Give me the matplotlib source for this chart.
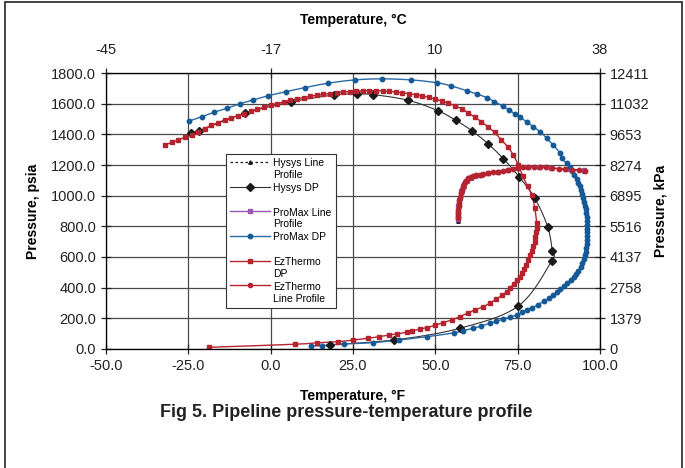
import numpy as np
import matplotlib.pyplot as plt
from matplotlib.lines import Line2D
from matplotlib.patches import Rectangle

plt.rcParams['font.family'] = ['Liberation Sans', 'DejaVu Sans']

# Osie: temperatura (F) i cisnienie (psia)
x_ticks = [-50, -25, 0, 25, 50, 75, 100]
y_ticks = [0, 200, 400, 600, 800, 1000, 1200, 1400, 1600, 1800]
kpa_labels = ['0', '1379', '2758', '4137', '5516', '6895', '8274', '9653', '11032', '12411']
c_ticks = [-50, 0, 50, 100]
c_labels = ['-45', '-17', '10', '38']

# Hysys DP (punkty)
hysys_dp_t = [-24.3, -21.8, -7.8, 6.1, 19.3, 26.1, 31.2, 41.8, 50.7, 56.2, 61.2, 66.1,
              70.7, 75.4, 80.2, 84.1, 85.5, 85.3, 75.2, 57.4, 37.5, 18.0]
hysys_dp_p = [1407, 1424, 1537, 1611, 1657, 1663, 1659, 1622, 1555, 1492, 1422, 1337,
              1240, 1124, 983, 798, 639, 574, 280, 135, 59, 28]

# ProMax DP
promax_dp_t = [-24.7, -20.9, -17.2, -13.3, -9.3, -5.3, -0.7, 4.6, 10.4, 17.3, 25.5, 33.7,
               42.6, 50.4, 54.8, 59.5, 62.6, 65.6, 67.9, 70.4, 72.4, 74.2, 75.7, 77.7,
               79.7, 81.8, 83.8, 85.8, 87.9, 88.4, 89.9, 90.8, 91.5, 92.2, 92.9, 93.4,
               93.8, 94.1, 94.5, 94.9, 95.2, 95.5, 95.7, 95.9, 96.0, 96.1, 96.2, 96.2,
               96.2, 96.2, 96.1, 96.0, 95.8, 95.6, 95.3, 95.0, 94.6, 94.1, 93.4, 92.8,
               92.0, 91.1, 90.0, 89.0, 88.0, 86.9, 85.8, 84.5, 82.9, 81.3, 79.5, 77.8,
               76.3, 74.7, 72.6, 70.5, 68.5, 66.6, 64.0, 61.5, 58.5, 55.6, 47.4, 39.1,
               31.0, 22.4, 15.5, 12.2]
promax_dp_p = [1487, 1515, 1544, 1570, 1600, 1624, 1652, 1678, 1705, 1733, 1755, 1762,
               1755, 1737, 1716, 1685, 1663, 1640, 1614, 1585, 1559, 1533, 1511, 1483,
               1450, 1418, 1374, 1331, 1276, 1243, 1211, 1185, 1160, 1135, 1110, 1085,
               1060, 1037, 1010, 985, 960, 935, 910, 885, 860, 835, 810, 785,
               760, 735, 710, 685, 660, 635, 610, 585, 560, 535, 510, 490,
               470, 450, 430, 410, 390, 370, 350, 330, 310, 290, 270, 254,
               238, 222, 208, 195, 180, 168, 150, 135, 120, 105, 80, 59,
               41, 33, 22, 20]

# EzThermo DP
ez_dp_t = [-32, -30, -28, -26, -24, -22, -20, -18, -16, -14, -12, -10, -8, -6, -4, -2,
           0, 2, 4, 6, 8, 10, 12, 14, 16, 18, 20, 22, 24, 26, 28, 30, 32, 34, 36, 38,
           40, 42, 44, 46, 48, 50, 52, 54, 56, 58, 60, 62, 64, 66, 68, 70, 72, 73.7,
           75.2, 76.5, 78.0, 79.3, 80.2, 80.8, 80.8, 80.6, 80.4, 80.2, 79.8, 79.3, 78.8,
           78.2, 77.6, 77.0, 76.3, 75.7, 74.8, 73.8, 72.8, 71.7, 70.2, 68.5, 66.6, 64.6,
           62.0, 60.0, 57.5, 55.0, 52.4, 50.0, 47.5, 45.4, 43.0, 41.3, 38.5, 36.0, 33.0,
           29.5, 25.0, 20.5, 14.0, 7.4, -18.7]
ez_dp_p = [1331, 1348, 1365, 1382, 1398, 1415, 1438, 1458, 1476, 1494, 1508, 1522, 1535,
           1550, 1564, 1578, 1590, 1601, 1612, 1622, 1631, 1640, 1648, 1655, 1661, 1666,
           1671, 1676, 1679, 1682, 1684, 1685, 1685, 1683, 1680, 1676, 1671, 1665, 1658,
           1650, 1641, 1630, 1617, 1603, 1586, 1566, 1540, 1512, 1482, 1448, 1412, 1365,
           1318, 1265, 1200, 1130, 1060, 1005, 920, 820, 790, 760, 730, 700, 670, 640,
           610, 580, 550, 520, 495, 472, 448, 425, 400, 374, 350, 325, 300, 276, 255,
           235, 211, 190, 172, 155, 140, 130, 118, 109, 100, 91, 80, 70, 58, 48, 40, 31, 11]

# Profile rurociagu (line profile)
ez_lp_t = [95.5, 93.5, 91.5, 89.5, 87.5, 85.5, 83.5, 81.8, 80.0, 78.0, 76.5, 75.0, 73.5,
           72.0, 70.5, 69.0, 67.5, 66.0, 64.6, 63.5, 62.5, 61.5, 60.7, 60.0, 59.5, 59.0,
           58.6, 58.3, 58.0, 57.7, 57.5, 57.3, 57.2, 57.1, 57.0, 57.0, 57.0, 57.0]
ez_lp_p = [1163, 1167, 1170, 1173, 1176, 1180, 1184, 1189, 1190, 1189, 1186, 1182, 1176,
           1168, 1161, 1156, 1152, 1147, 1142, 1138, 1134, 1128, 1120, 1112, 1102, 1090,
           1075, 1059, 1040, 1020, 993, 970, 950, 930, 907, 890, 870, 852]
promax_lp_t = [95.0, 90.0, 85.0, 81.5, 78.0, 75.0, 72.0, 69.0, 66.0, 64.0, 62.0, 60.5,
               59.3, 58.5, 57.9, 57.4, 57.0, 56.9, 56.8]
promax_lp_p = [1165, 1172, 1180, 1188, 1188, 1181, 1167, 1155, 1146, 1138, 1129, 1115,
               1095, 1065, 1030, 985, 930, 890, 848]
hysys_lp_t = [95.0, 90.0, 85.0, 81.5, 78.0, 75.0, 72.0, 69.0, 66.0, 64.0, 62.0, 60.7,
              59.5, 58.7, 58.1, 57.6, 57.2, 57.0, 56.9]
hysys_lp_p = [1164, 1171, 1179, 1187, 1187, 1180, 1166, 1154, 1145, 1137, 1128, 1115,
              1096, 1066, 1031, 986, 930, 885, 838]


# Wygladzanie linii jak w Excelu (Catmull-Rom)
def gladka(x, y, n=10):
    p = np.column_stack([x, y]).astype(float)
    p = np.vstack([p[0], p, p[-1]])
    out = []
    t = np.linspace(0, 1, n, endpoint=False)[:, None]
    for i in range(1, len(p) - 2):
        p0, p1, p2, p3 = p[i - 1], p[i], p[i + 1], p[i + 2]
        seg = 0.5 * (2 * p1 + (-p0 + p2) * t + (2 * p0 - 5 * p1 + 4 * p2 - p3) * t ** 2
                     + (-p0 + 3 * p1 - 3 * p2 + p3) * t ** 3)
        out.append(seg)
    out.append(p[-2][None, :])
    out = np.vstack(out)
    return out[:, 0], out[:, 1]


fig = plt.figure(figsize=(6.85, 4.68), dpi=100)
ax = fig.add_axes([0.1547, 0.2543, 0.7212, 0.5897])

czarny = '#1a1a1a'
niebieski = '#2a6aa6'
nieb_m = '#155a96'
fiolet = '#9b55b5'
czerwony = '#b5242e'

serie = [
    (hysys_lp_t, hysys_lp_p, czarny, (0, (3, 3)), 0.9, '^', 2.5, czarny),
    (hysys_dp_t, hysys_dp_p, '#333333', '-', 0.8, 'D', 4.0, czarny),
    (promax_lp_t, promax_lp_p, fiolet, '-', 1.0, 's', 3.0, fiolet),
    (promax_dp_t, promax_dp_p, niebieski, '-', 1.0, 'o', 3.2, nieb_m),
    (ez_dp_t, ez_dp_p, czerwony, '-', 1.0, 's', 3.4, czerwony),
    (ez_lp_t, ez_lp_p, czerwony, '-', 1.0, 'o', 3.2, czerwony),
]
for t, p, kol, ls, lw, mk, ms, mkol in serie:
    xs, ys = gladka(t, p)
    ax.plot(xs, ys, color=kol, ls=ls, lw=lw, zorder=3)
    ax.plot(t, p, ls='none', marker=mk, ms=ms, color=mkol, mec=mkol, zorder=4)

ax.set_xlim(-50, 100)
ax.set_ylim(0, 1800)
ax.set_xticks(x_ticks)
ax.set_xticklabels(['%.1f' % v for v in x_ticks])
ax.set_yticks(y_ticks)
ax.set_yticklabels(['%.1f' % v for v in y_ticks])
ax.grid(True, color='#4a4a4a', lw=0.9)
ax.set_axisbelow(True)
ax.tick_params(direction='inout', length=7, width=0.9, labelsize=10.5, colors='#222222',
               right=False, top=False)
for s in ax.spines.values():
    s.set_color('#222222')
ax.set_xlabel('Temperature, °F', fontweight='bold', fontsize=10, labelpad=12)
ax.set_ylabel('Pressure, psia', fontweight='bold', fontsize=10, labelpad=8)

ax2 = ax.twinx()
ax2.set_ylim(0, 1800)
ax2.set_yticks(y_ticks)
ax2.set_yticklabels(kpa_labels)
ax2.tick_params(direction='inout', length=7, width=0.9, labelsize=10.5, colors='#222222')
ax2.set_ylabel('Pressure, kPa', fontweight='bold', fontsize=10, labelpad=3)

ax3 = ax.twiny()
ax3.set_xlim(-50, 100)
ax3.set_xticks(c_ticks)
ax3.set_xticklabels(c_labels)
ax3.tick_params(direction='inout', length=7, width=0.9, labelsize=10.5, colors='#222222',
                pad=8)
ax3.set_xlabel('Temperature, °C', fontweight='bold', fontsize=10, labelpad=14)

# Legenda
uchwyty = [
    Line2D([], [], color=czarny, ls=(0, (2, 2)), lw=0.9, marker='^', ms=2.5),
    Line2D([], [], color='#333333', lw=0.8, marker='D', ms=4, mfc=czarny, mec=czarny),
    Line2D([], [], color=fiolet, lw=1.0, marker='s', ms=2.5),
    Line2D([], [], color=niebieski, lw=1.0, marker='o', ms=3.2, mfc=nieb_m, mec=nieb_m),
    Line2D([], [], color=czerwony, lw=1.0, marker='s', ms=3.2),
    Line2D([], [], color=czerwony, lw=1.0, marker='o', ms=3.0),
]
etykiety = ['Hysys Line\nProfile', 'Hysys DP\n', 'ProMax Line\nProfile', 'ProMax DP\n',
            'EzThermo\nDP', 'EzThermo\nLine Profile']
leg = ax2.legend(uchwyty, etykiety, loc='upper left', bbox_to_anchor=(0.233, 0.725),
                 fontsize=7.5, handlelength=3.8, handletextpad=0.3, labelspacing=0.3,
                 borderpad=0.4, fancybox=False, framealpha=1, edgecolor='#333333')
leg.get_frame().set_linewidth(0.8)
# przesuwamy symbole do pierwszej linii opisu
for h in leg.legend_handles:
    h.set_ydata(np.asarray(h.get_ydata()) + 5.5)

fig.text(0.505, 0.118, 'Fig 5. Pipeline pressure-temperature profile',
         ha='center', va='center', fontweight='bold', fontsize=13, color='#222222')

fig.patches.append(Rectangle((5 / 685, -0.01), 677 / 685, 1 - 2 / 468 + 0.01,
                             transform=fig.transFigure, fill=False, ec='#222222', lw=1.2))

plt.savefig('out.png', dpi=100)
